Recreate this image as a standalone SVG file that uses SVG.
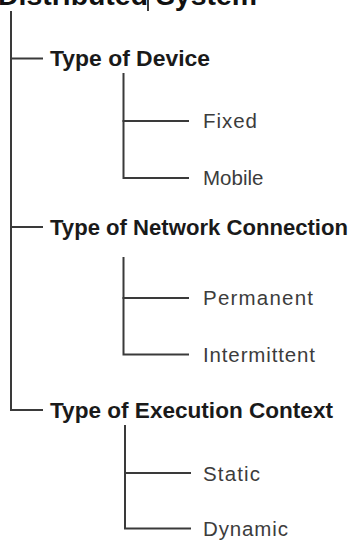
<svg xmlns="http://www.w3.org/2000/svg" width="360" height="542" viewBox="0 0 360 542">
  <style>
    .link { stroke: #3a3a3a; stroke-width: 2; fill: none; stroke-linecap: square; }
    .title { font-family: "Liberation Sans", Arial, sans-serif; font-weight: bold; font-size: 28px; fill: #111; }
    .head { font-family: "Liberation Sans", Arial, sans-serif; font-weight: bold; font-size: 22px; fill: #1a1a1a; }
    .leaf { font-family: "Liberation Sans", Arial, sans-serif; font-size: 20.5px; fill: #3c3c3c; }
  </style>
  <rect width="360" height="542" fill="#ffffff"/>

  <g id="connectors">
    <!-- root stub and main trunk -->
    <path class="link" d="M148,0 V10"/>
    <path class="link" d="M11,12 V410 H42"/>
    <path class="link" d="M11,58.5 H42"/>
    <path class="link" d="M11,227 H42"/>
    <!-- device branch -->
    <path class="link" d="M123.5,74 V178 H188"/>
    <path class="link" d="M123.5,121 H188"/>
    <!-- network branch -->
    <path class="link" d="M123.5,258 V354.5 H188"/>
    <path class="link" d="M123.5,298 H188"/>
    <!-- execution branch -->
    <path class="link" d="M125,426 V528.5 H190"/>
    <path class="link" d="M125,473 H190"/>
  </g>

  <g id="root">
    <text class="title" x="-2" y="5" textLength="259" lengthAdjust="spacingAndGlyphs">Distributed System</text>
  </g>

  <g id="device">
    <text class="head" x="50" y="66" textLength="160" lengthAdjust="spacingAndGlyphs">Type of Device</text>
  </g>
  <g id="fixed">
    <text class="leaf" x="203" y="128" textLength="54" lengthAdjust="spacing">Fixed</text>
  </g>
  <g id="mobile">
    <text class="leaf" x="203" y="184.5">Mobile</text>
  </g>

  <g id="network">
    <text class="head" x="50" y="234.5" textLength="298" lengthAdjust="spacingAndGlyphs">Type of Network Connection</text>
  </g>
  <g id="permanent">
    <text class="leaf" x="203" y="305" textLength="110" lengthAdjust="spacing">Permanent</text>
  </g>
  <g id="intermittent">
    <text class="leaf" x="203" y="361.5" textLength="112" lengthAdjust="spacing">Intermittent</text>
  </g>

  <g id="execution">
    <text class="head" x="50" y="417.5" textLength="283" lengthAdjust="spacingAndGlyphs">Type of Execution Context</text>
  </g>
  <g id="static">
    <text class="leaf" x="203" y="481" textLength="57" lengthAdjust="spacing">Static</text>
  </g>
  <g id="dynamic">
    <text class="leaf" x="203" y="536" textLength="85" lengthAdjust="spacing">Dynamic</text>
  </g>
</svg>
